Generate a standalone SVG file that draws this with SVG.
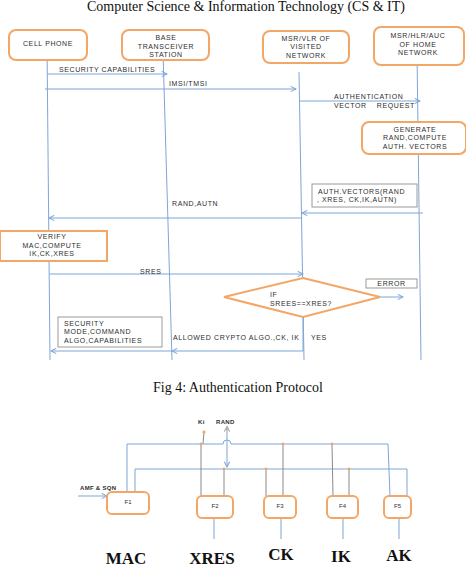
<svg xmlns="http://www.w3.org/2000/svg" width="466" height="583" viewBox="0 0 466 583">
<defs>
<style>
.bg{fill:#fff}
.ob{fill:#fff;stroke:#F2A766;stroke-width:2}
.gb{fill:#fff;stroke:#9a9a9a;stroke-width:1}
.ll{stroke:#7FA5D8;stroke-width:1;fill:none}
.msg{stroke:#7FA5D8;stroke-width:1;fill:none;marker-end:url(#ah)}
.gl{stroke:#8a8a8a;stroke-width:1;fill:none}
.t{font-family:"Liberation Sans",Arial,sans-serif;font-size:7px;letter-spacing:0.6px;fill:#2e2e2e}
.c{text-anchor:middle}
.cap{font-family:"Liberation Serif","Times New Roman",serif;font-size:14px;fill:#111;text-anchor:middle}
.big{font-family:"Liberation Serif","Times New Roman",serif;font-size:17px;font-weight:bold;fill:#111;text-anchor:middle}
.dot{fill:#F2A766}
.sm{font-size:6px;letter-spacing:0.3px;font-weight:bold}
.fl{font-size:6px;letter-spacing:0}
</style>
<marker id="ah" viewBox="0 0 8 8" refX="7" refY="4" markerWidth="7" markerHeight="7" markerUnits="userSpaceOnUse" orient="auto">
<path d="M1,1 L7,4 L1,7" fill="none" stroke="#7FA5D8" stroke-width="1.2"/>
</marker>
<marker id="ahs" viewBox="0 0 8 8" refX="4" refY="4" markerWidth="7" markerHeight="7" markerUnits="userSpaceOnUse" orient="auto-start-reverse">
<path d="M1,1 L7,4 L1,7" fill="none" stroke="#7FA5D8" stroke-width="1.2"/>
</marker>
</defs>
<rect class="bg" x="0" y="0" width="466" height="583"/>
<text class="cap" x="246" y="11">Computer Science &amp; Information Technology (CS &amp; IT)</text>

<g id="lifelines">
<line class="ll" x1="47" y1="45" x2="50" y2="360"/>
<line class="ll" x1="163" y1="52" x2="172" y2="360"/>
<line class="ll" x1="299" y1="72" x2="304" y2="360"/>
<line class="ll" x1="417" y1="52" x2="421" y2="360"/>
</g>

<g id="cell-phone">
<rect class="ob" x="9" y="30" width="78" height="30" rx="7"/>
<text class="t c" x="48" y="45.5">CELL PHONE</text>
</g>
<g id="bts">
<rect class="ob" x="122" y="30" width="87" height="30" rx="7"/>
<text class="t c" x="166" y="40">BASE</text>
<text class="t c" x="166" y="48.5">TRANSCEIVER</text>
<text class="t c" x="166" y="57">STATION</text>
</g>
<g id="vlr">
<rect class="ob" x="263" y="31" width="86" height="32" rx="7"/>
<text class="t c" x="306" y="40.5">MSR/VLR OF</text>
<text class="t c" x="306" y="49">VISITED</text>
<text class="t c" x="306" y="57.5">NETWORK</text>
</g>
<g id="hlr">
<rect class="ob" x="374" y="27" width="90" height="38" rx="7"/>
<text class="t c" x="418" y="38">MSR/HLR/AUC</text>
<text class="t c" x="418" y="46.5">OF HOME</text>
<text class="t c" x="418" y="55">NETWORK</text>
</g>
<g id="generate">
<rect class="ob" x="362" y="122" width="104" height="32" rx="7"/>
<text class="t c" x="415" y="131.5">GENERATE</text>
<text class="t c" x="415" y="140">RAND,COMPUTE</text>
<text class="t c" x="415" y="148.5">AUTH. VECTORS</text>
</g>
<g id="auth-vectors">
<rect class="gb" x="312" y="184" width="105" height="23"/>
<text class="t" x="318" y="193.5">AUTH.VECTORS(RAND</text>
<text class="t" x="317" y="201.5">, XRES, CK,IK,AUTN)</text>
</g>
<g id="verify">
<rect class="ob" x="0" y="231" width="107" height="30"/>
<text class="t c" x="52" y="239">VERIFY</text>
<text class="t c" x="52" y="247.5">MAC,COMPUTE</text>
<text class="t c" x="52" y="256">IK,CK,XRES</text>
</g>
<g id="error">
<rect class="gb" x="366" y="279" width="51" height="9"/>
<text class="t c" x="391.5" y="286">ERROR</text>
</g>
<g id="decision">
<polygon class="ob" points="303,278 380,297 303,317 224,297"/>
<text class="t" x="270" y="296.5">IF</text>
<text class="t" x="270" y="305.5">SREES==XRES?</text>
</g>
<g id="security-mode">
<rect class="gb" x="58" y="317" width="104" height="30"/>
<text class="t" x="64" y="325.5">SECURITY</text>
<text class="t" x="64" y="334">MODE,COMMAND</text>
<text class="t" x="64" y="342.5">ALGO,CAPABILITIES</text>
</g>

<g id="messages">
<line class="msg" x1="47" y1="74" x2="167" y2="74"/>
<text class="t" x="59" y="71.5">SECURITY CAPABILITIES</text>
<line class="msg" x1="45" y1="89" x2="296" y2="89"/>
<text class="t" x="169" y="86">IMSI/TMSI</text>
<line class="msg" x1="300" y1="101" x2="420" y2="101"/>
<text class="t" x="334" y="99">AUTHENTICATION</text>
<text class="t" x="334" y="108" xml:space="preserve">VECTOR    REQUEST</text>
<line class="msg" x1="423" y1="213" x2="302" y2="213"/>
<line class="msg" x1="302" y1="218" x2="49" y2="218"/>
<text class="t" x="172" y="205.5">RAND,AUTN</text>
<line class="msg" x1="50" y1="274" x2="303" y2="274"/>
<text class="t" x="140" y="274">SRES</text>
<line class="msg" x1="380" y1="297" x2="403" y2="297"/>
<path class="ll" d="M303,317 L303,351"/>
<line class="msg" x1="303" y1="351" x2="172" y2="351"/>
<line class="msg" x1="172" y1="351" x2="51" y2="351"/>
<text class="t" x="173" y="339.5">ALLOWED CRYPTO ALGO.,CK, IK</text>
<text class="t" x="311" y="339.5">YES</text>
</g>

<text class="cap" x="238" y="392">Fig 4: Authentication Protocol</text>

<g id="bottom-connectors">
<text class="t sm" x="198" y="424">Ki</text>
<text class="t sm" x="216" y="424">RAND</text>
<line class="gl" x1="204" y1="432" x2="203" y2="444"/>
<path class="ll" d="M127,492 L127,444 L223,444 A4,4 0 0 1 231,444 L388,444 L390,496"/>
<path class="ll" d="M135,492 L135,469 L407,469 L407,496"/>
<line class="ll" x1="227" y1="429" x2="227" y2="467" marker-start="url(#ahs)" marker-end="url(#ah)"/>
<line class="gl" x1="201" y1="444" x2="201" y2="496"/>
<line class="gl" x1="224" y1="469" x2="224" y2="496"/>
<line class="gl" x1="266" y1="469" x2="266" y2="496"/>
<line class="gl" x1="283" y1="444" x2="283" y2="496"/>
<line class="gl" x1="332" y1="444" x2="333" y2="496"/>
<line class="gl" x1="349" y1="469" x2="349" y2="496"/>
<line class="msg" x1="78" y1="496" x2="107" y2="496"/>
<text class="t sm" x="80" y="490">AMF &amp; SQN</text>
<line class="ll" x1="214" y1="518" x2="214" y2="539"/>
<line class="ll" x1="281" y1="518" x2="281" y2="539"/>
<line class="ll" x1="343" y1="518" x2="343" y2="539"/>
<line class="ll" x1="399" y1="518" x2="399" y2="539"/>
<circle class="dot" cx="204" cy="432" r="1.6"/>
<circle class="dot" cx="201" cy="444" r="1.4"/>
<circle class="dot" cx="227" cy="429" r="1.4"/>
<circle class="dot" cx="224" cy="469" r="1.4"/>
<circle class="dot" cx="266" cy="469" r="1.4"/>
<circle class="dot" cx="283" cy="444" r="1.4"/>
<circle class="dot" cx="332" cy="444" r="1.4"/>
<circle class="dot" cx="349" cy="469" r="1.4"/>
</g>
<g id="f1"><rect class="ob" x="107" y="492" width="42" height="22" rx="5"/><text class="t c fl" x="128" y="504">F1</text></g>
<g id="f2"><rect class="ob" x="197" y="496" width="36" height="22" rx="5"/><text class="t c fl" x="215" y="508">F2</text></g>
<g id="f3"><rect class="ob" x="264" y="496" width="32" height="22" rx="5"/><text class="t c fl" x="280" y="508">F3</text></g>
<g id="f4"><rect class="ob" x="327" y="496" width="31" height="22" rx="5"/><text class="t c fl" x="342.5" y="508">F4</text></g>
<g id="f5"><rect class="ob" x="384" y="496" width="27" height="22" rx="5"/><text class="t c fl" x="397.5" y="508">F5</text></g>

<text class="big" x="126" y="564">MAC</text>
<text class="big" x="212" y="564">XRES</text>
<text class="big" x="281" y="560">CK</text>
<text class="big" x="341" y="562">IK</text>
<text class="big" x="399" y="561">AK</text>
</svg>
